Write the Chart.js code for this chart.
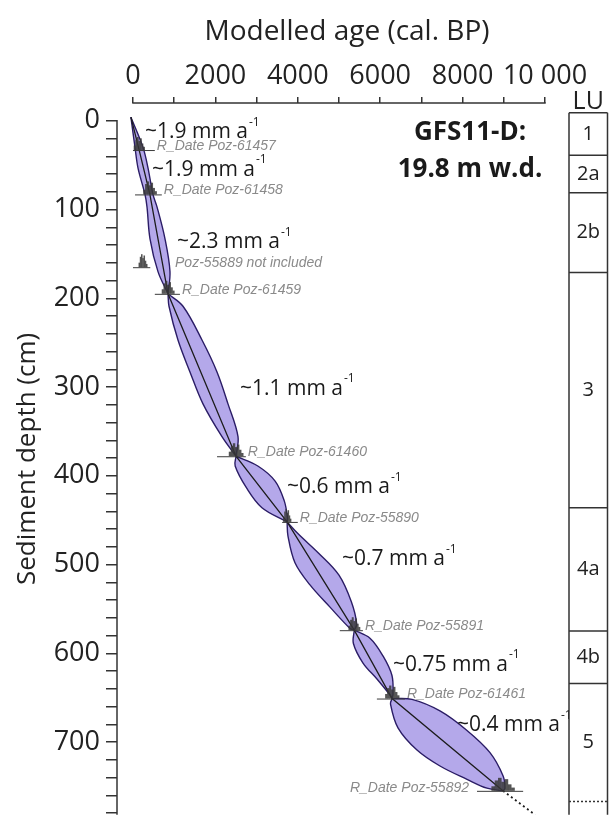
<!DOCTYPE html>
<html><head><meta charset="utf-8">
<script src="https://cdn.jsdelivr.net/npm/chart.js@4.4.0/dist/chart.umd.min.js"></script>
<style>html,body{margin:0;padding:0;background:#fff;}</style>
</head><body>
<canvas id="c" width="609" height="837"></canvas>
<script>
// ---- axis ticks ----
const ageTicks = [0,1000,2000,3000,4000,5000,6000,7000,8000,9000,10000];
const ageTickLabels = ['0','','2000','','4000','','6000','','8000','','10 000'];
const depthTicks = [0,20,40,60,80,100,120,140,160,180,200,220,240,260,280,300,320,340,360,380,400,420,440,460,480,500,520,540,560,580,600,620,640,660,680,700,720,740,760,780];
const depthTickLabels = ['0','','','','','100','','','','','200','','','','','300','','','','','400','','','','','500','','','','','600','','','','','700','','','',''];

// ---- radiocarbon dates (calibrated) ----
const dateLabels = ['R_Date Poz-61457','R_Date Poz-61458','R_Date Poz-61459','R_Date Poz-61460','R_Date Poz-55890','R_Date Poz-55891','R_Date Poz-61461','R_Date Poz-55892'];
const dateDepth = [33, 83, 195, 378, 452, 574, 651, 755];
const dateAge = [150, 410, 850, 2500, 3740, 5370, 6290, 8980];
const dateAgeMin = [0, 50, 530, 2040, 3620, 5020, 5920, 8350];
const dateAgeMax = [530, 700, 1140, 2740, 4000, 5580, 6600, 9470];
const rejectedLabel = 'Poz-55889 not included';
const rejectedDepth = 165;
const rejectedAge = 240;
const rejectedAgeMin = 0;
const rejectedAgeMax = 420;

// ---- median age-depth model ----
const medianAge = [-50, 150, 410, 850, 2500, 3740, 5370, 6290, 8980];
const medianDepth = [-4, 33, 83, 195, 378, 452, 574, 651, 755];
const extrapAge = [8980, 9760];
const extrapDepth = [755, 782];

// ---- 95% envelope, lens by lens (left = younger edge, right = older edge) ----
const leftAgeA = [-50, 49, 121, 291, 340, 413, 607, 850];
const leftDepthA = [-4, 30, 53, 83, 97, 133, 170, 195];
const rightAgeA = [-50, 243, 364, 485, 583, 777, 898, 850];
const rightDepthA = [-4, 30, 53, 83, 97, 133, 170, 195];

const leftAgeB = [850, 874, 1092, 1383, 1699, 2160, 2500];
const leftDepthB = [195, 209, 247, 283, 319, 356, 378];
const rightAgeB = [850, 1214, 1675, 2039, 2306, 2549, 2500];
const rightDepthB = [195, 209, 247, 283, 319, 356, 378];

const leftAgeC = [2500, 2480, 2760, 3130, 3740];
const leftDepthC = [378, 389, 414, 436, 452];
const rightAgeC = [2500, 3030, 3450, 3670, 3750, 3740];
const rightDepthC = [378, 389, 406, 428, 447, 452];

const leftAgeD = [3740, 3762, 3932, 4296, 4782, 5267, 5370];
const leftDepthD = [452, 468, 498, 523, 548, 572, 574];
const rightAgeD = [3740, 4020, 4500, 5000, 5300, 5430, 5370];
const rightDepthD = [452, 466, 487, 512, 542, 567, 574];

const leftAgeE = [5370, 5350, 5583, 5922, 6238, 6290];
const leftDepthE = [574, 589, 611, 629, 647, 651];
const rightAgeE = [5370, 5752, 6068, 6286, 6311, 6290];
const rightDepthE = [574, 583, 603, 625, 646, 651];

const leftAgeF = [6290, 6250, 6432, 6893, 7451, 8107, 8592, 8980];
const leftDepthF = [651, 657, 684, 709, 727, 742, 752, 755];
const rightAgeF = [6290, 6772, 7451, 8107, 8665, 8981, 9029, 8980];
const rightDepthF = [651, 652, 665, 687, 712, 738, 752, 755];

// ---- accumulation rates ----
const rateLabels = ['~1.9 mm a','~1.9 mm a','~2.3 mm a','~1.1 mm a','~0.6 mm a','~0.7 mm a','~0.75 mm a','~0.4 mm a'];

// ---- lithological units ----
const luLabels = ['1','2a','2b','3','4a','4b','5'];
const luTop = [-9, 39, 81, 171, 436, 575, 634];
const luBottom = [39, 81, 171, 436, 575, 634, 767];

// ================= layout / style (not data) =================
const FONT = "'Open Sans', sans-serif";
const AXIS = '#333333';
const ratePos = [[291,13],[461,55],[1068,137],[2597,302],[3738,413],[5073,494],[6311,613],[7864,681]];
const dateLabelSide = ['r','r','r','r','r','r','r','l'];
const rejectedLabelAge = 1020;

const pts = (a, d) => a.map((v, i) => ({x: v, y: d[i]}));
const edgeStyle = {borderColor: '#2b1d66', borderWidth: 1.4, pointRadius: 0, tension: 0.35, backgroundColor: '#b4a8ea', order: 2};
const lenses = [
  [leftAgeA,leftDepthA,rightAgeA,rightDepthA],
  [leftAgeB,leftDepthB,rightAgeB,rightDepthB],
  [leftAgeC,leftDepthC,rightAgeC,rightDepthC],
  [leftAgeD,leftDepthD,rightAgeD,rightDepthD],
  [leftAgeE,leftDepthE,rightAgeE,rightDepthE],
  [leftAgeF,leftDepthF,rightAgeF,rightDepthF]
];
const datasets = [];
lenses.forEach(l => {
  datasets.push(Object.assign({data: pts(l[0], l[1]), fill: false}, edgeStyle));
  datasets.push(Object.assign({data: pts(l[2], l[3]), fill: '-1'}, edgeStyle));
});
datasets.push({data: pts(medianAge, medianDepth), borderColor: '#1c1c1c', borderWidth: 1.3, pointRadius: 0, tension: 0, fill: false, order: 0});
datasets.push({data: pts(extrapAge, extrapDepth), borderColor: '#1c1c1c', borderWidth: 1.8, borderDash: [2, 3], pointRadius: 0, tension: 0, fill: false, order: 0});

function drawBlob(ctx, xc, yb, w, h) {
  const hs = [0.35, 0.8, 1, 0.7, 0.9, 0.5, 0.25];
  const bw = w / hs.length;
  ctx.fillStyle = 'rgba(55,55,55,0.85)';
  hs.forEach((v, i) => ctx.fillRect(xc - w / 2 + i * bw, yb - v * h, bw + 0.3, v * h));
}

const overlay = {
  id: 'overlay',
  afterDatasetsDraw(chart) {
    const {ctx, chartArea: a, scales: {x, y}} = chart;
    ctx.save();
    // axis lines
    ctx.strokeStyle = AXIS; ctx.lineWidth = 1.5;
    ctx.beginPath();
    ctx.moveTo(x.getPixelForValue(ageTicks[0]) - 0.75, a.top);
    ctx.lineTo(x.getPixelForValue(ageTicks[ageTicks.length - 1]) + 0.75, a.top);
    ctx.stroke();
    ctx.beginPath();
    ctx.moveTo(a.left, y.getPixelForValue(depthTicks[0]) - 0.75);
    ctx.lineTo(a.left, a.bottom);
    ctx.stroke();

    // dates
    ctx.textBaseline = 'middle';
    const drawDate = (age, depth, mn, mx, label, side, labelX) => {
      const yb = y.getPixelForValue(depth);
      const x0 = x.getPixelForValue(mn), x1 = x.getPixelForValue(mx);
      const xc = x.getPixelForValue(age);
      drawBlob(ctx, xc, yb, Math.max(8, (x1 - x0) * 0.5), 13);
      ctx.strokeStyle = '#3a3a3a'; ctx.lineWidth = 1;
      ctx.beginPath(); ctx.moveTo(x0, yb + 0.5); ctx.lineTo(x1, yb + 0.5); ctx.stroke();
      ctx.fillStyle = '#8a8a8a';
      ctx.font = "italic 14px 'Liberation Sans', Arial, sans-serif";
      if (side === 'l') { ctx.textAlign = 'right'; ctx.fillText(label, x0 - 8, yb - 3); }
      else { ctx.textAlign = 'left'; ctx.fillText(label, labelX !== undefined ? labelX : x1 + 2, yb - 4); }
    };
    dateLabels.forEach((lab, i) => drawDate(dateAge[i], dateDepth[i], dateAgeMin[i], dateAgeMax[i], lab, dateLabelSide[i]));
    drawDate(rejectedAge, rejectedDepth, rejectedAgeMin, rejectedAgeMax, rejectedLabel, 'r', x.getPixelForValue(rejectedLabelAge));

    // rates
    rateLabels.forEach((t, i) => {
      const px = x.getPixelForValue(ratePos[i][0]), py = y.getPixelForValue(ratePos[i][1]);
      ctx.font = '21px ' + FONT; ctx.fillStyle = '#1a1a1a'; ctx.textAlign = 'left'; ctx.textBaseline = 'middle';
      ctx.fillText(t, px, py);
      const w = ctx.measureText(t).width;
      ctx.font = '12px ' + FONT;
      ctx.fillText('-1', px + w + 1, py - 10);
    });

    // site label
    ctx.font = 'bold 26px ' + FONT; ctx.fillStyle = '#1a1a1a'; ctx.textAlign = 'center'; ctx.textBaseline = 'middle';
    const sx = x.getPixelForValue(8180);
    ctx.fillText('GFS11-D:', sx, y.getPixelForValue(13));
    ctx.fillText('19.8 m w.d.', sx, y.getPixelForValue(55));

    // LU column
    const lx0 = chart.width - 40, lx1 = chart.width - 1.5;
    ctx.strokeStyle = AXIS; ctx.lineWidth = 1.5;
    ctx.beginPath();
    ctx.moveTo(lx0, y.getPixelForValue(luTop[0])); ctx.lineTo(lx0, a.bottom);
    ctx.moveTo(lx1, y.getPixelForValue(luTop[0])); ctx.lineTo(lx1, a.bottom);
    luTop.forEach(t => { const py = y.getPixelForValue(t); ctx.moveTo(lx0, py); ctx.lineTo(lx1, py); });
    ctx.stroke();
    ctx.setLineDash([2, 2]);
    ctx.beginPath();
    const pb = y.getPixelForValue(luBottom[luBottom.length - 1]);
    ctx.moveTo(lx0, pb); ctx.lineTo(lx1, pb); ctx.stroke();
    ctx.setLineDash([]);
    ctx.font = '20px ' + FONT; ctx.fillStyle = '#222'; ctx.textAlign = 'center'; ctx.textBaseline = 'middle';
    luLabels.forEach((l, i) => ctx.fillText(l, (lx0 + lx1) / 2, (y.getPixelForValue(luTop[i]) + y.getPixelForValue(luBottom[i])) / 2));
    ctx.font = '25px ' + FONT;
    ctx.fillText('LU', (lx0 + lx1) / 2, y.getPixelForValue(luTop[0]) - 11);
    ctx.restore();
  }
};

new Chart(document.getElementById('c'), {
  type: 'line',
  data: {datasets},
  options: {
    indexAxis: 'y',
    responsive: false,
    animation: false,
    layout: {padding: {left: 0, right: 32, top: 0, bottom: 0}},
    plugins: {legend: {display: false}, tooltip: {enabled: false}},
    scales: {
      x: {
        type: 'linear', position: 'top', min: -388, max: 10777,
        afterBuildTicks: s => { s.ticks = ageTicks.map(v => ({value: v})); },
        afterFit: s => { s.height = 103; },
        ticks: {autoSkip: false, maxRotation: 0, padding: 4, color: '#222', font: {family: FONT, size: 27},
                callback: (v, i) => ageTickLabels[i]},
        grid: {display: true, drawOnChartArea: false, drawTicks: true, tickLength: 6, color: AXIS, lineWidth: 1.5},
        border: {display: false},
        title: {display: true, text: 'Modelled age (cal. BP)', color: '#222', font: {family: FONT, size: 28}, padding: {top: 15, bottom: 0}}
      },
      y: {
        type: 'linear', reverse: true, min: -20, max: 782,
        afterBuildTicks: s => { s.ticks = depthTicks.map(v => ({value: v})); },
        afterFit: s => { s.width = 117; },
        ticks: {autoSkip: false, padding: 6, color: '#222', font: {family: FONT, size: 27},
                callback: (v, i) => depthTickLabels[i]},
        grid: {display: true, drawOnChartArea: false, drawTicks: true, tickLength: 11, color: AXIS, lineWidth: 1.5},
        border: {display: false},
        title: {display: true, text: 'Sediment depth (cm)', color: '#222', font: {family: FONT, size: 26}, padding: {top: 12, bottom: 0}}
      }
    }
  },
  plugins: [overlay]
});
</script>
</body></html>
